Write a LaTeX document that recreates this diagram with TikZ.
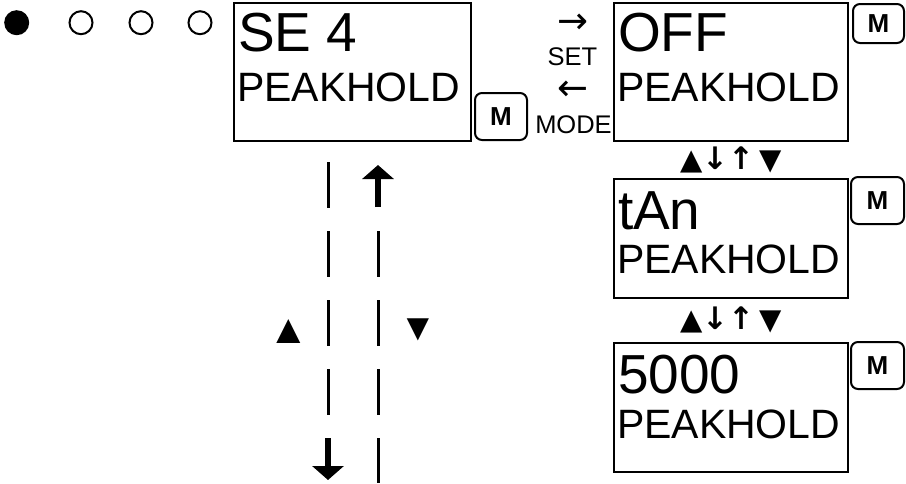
\documentclass[tikz,border=0pt]{standalone}
\usepackage{fontspec}
\setmainfont{Liberation Sans}
\newfontfamily\symfont{DejaVu Sans}
\usetikzlibrary{arrows.meta, positioning}

\newcommand{\navarrows}{{\symfont\fontsize{29}{29}\selectfont ▲}%
  {\symfont\bfseries\fontsize{31}{31}\selectfont ↓↑}\hspace{4.1pt}%
  {\symfont\fontsize{29}{29}\selectfont ▼}}

\begin{document}
\begin{tikzpicture}[
    x=1pt, y=-1pt,
    dispbox/.style={rectangle, draw, line width=2.4pt, inner sep=0pt, minimum width=234pt},
    mkey/.style={rectangle, draw, rounded corners=7pt, line width=2pt, font=\fontsize{26}{26}\selectfont\bfseries, inner sep=0pt, minimum width=52pt, minimum height=47pt},
    bigtxt/.style={anchor=base west, inner sep=0pt, font=\fontsize{55}{55}\selectfont},
    midtxt/.style={anchor=base west, inner sep=0pt, font=\fontsize{41}{41}\selectfont},
    keytxt/.style={inner sep=0pt, font=\fontsize{25.5}{25.5}\selectfont},
    arrtxt/.style={inner sep=0pt, anchor=base, text height=18pt, text depth=0pt, font=\symfont\fontsize{37}{37}\selectfont},
    symtxt/.style={inner sep=0pt, anchor=base, font=\fontsize{42}{42}\selectfont},
    led/.style={circle, inner sep=0pt, minimum size=23pt, line width=2pt},
    dashline/.style={line width=3pt, dash pattern=on 46pt off 23pt},
    bigarrow/.style={line width=6.5pt, -{Triangle[width=31pt, length=14pt]}}
]
    \useasboundingbox (0,0) rectangle (906,483);

    % Step indicator
    \node[led, fill, minimum size=25pt] (led1) at (16.7,22.7) {};
    \node[led, draw] (led2) at (81,22.7) {};
    \node[led, draw] (led3) at (141,22.7) {};
    \node[led, draw] (led4) at (200,22.7) {};

    % Displays
    \node[dispbox, minimum width=237pt, minimum height=138pt] (se) at (352.5,72) {};
    \node[dispbox, minimum height=138pt] (off) at (731,72) {};
    \node[dispbox, minimum height=119pt] (tan) at (731,238.5) {};
    \node[dispbox, minimum height=129pt] (val) at (731,407.5) {};

    % Display texts
    \node[bigtxt] (seA) at ([shift={(5,50)}]se.north west) {SE 4};
    \node[midtxt] (seB) at ([shift={(4,100)}]se.north west) {PEAKHOLD};
    \node[bigtxt] (offA) at ([shift={(5,50)}]off.north west) {OFF};
    \node[midtxt] (offB) at ([shift={(4,100)}]off.north west) {PEAKHOLD};
    \node[bigtxt] (tanA) at ([shift={(5,52)}]tan.north west) {tAn};
    \node[midtxt] (tanB) at ([shift={(4,96)}]tan.north west) {PEAKHOLD};
    \node[bigtxt] (valA) at ([shift={(5,52)}]val.north west) {5000};
    \node[midtxt] (valB) at ([shift={(4,97)}]val.north west) {PEAKHOLD};

    % M keys
    \node[mkey] (m1) at (501,116.5) {M};
    \node[mkey, minimum width=51pt, minimum height=39pt] (m2) at (878.5,23.5) {M};
    \node[mkey, minimum width=53pt] (m3) at (877.5,200.5) {M};
    \node[mkey, minimum width=53pt] (m4) at (877.5,365.5) {M};

    % Key hints
    \node[arrtxt] (setArr) at (572.5,33) {→};
    \node[keytxt, anchor=base] (setLbl) at (572.5,65) {SET};
    \node[arrtxt] (modeArr) at (573,100) {←};
    \node[keytxt, anchor=base] (modeLbl) at (573.5,133) {MODE};
    \node[inner sep=0pt, anchor=base] (nav1) at (731,169) {\navarrows};
    \node[inner sep=0pt, anchor=base] (nav2) at (731,329) {\navarrows};

    % Scroll lines
    \coordinate (dnTop) at (328,162);
    \coordinate (dnMid) at (328,416);
    \coordinate (dnStart) at (328,438);
    \coordinate (dnTip) at (328,480);
    \coordinate (upTip) at (378,165);
    \coordinate (upStart) at (378,207);
    \coordinate (upMid) at (378,231);
    \coordinate (upEnd) at (378,483);
    \draw[dashline] (dnTop) -- (dnMid);
    \draw[bigarrow] (dnStart) -- (dnTip);
    \draw[bigarrow] (upStart) -- (upTip);
    \draw[dashline] (upMid) -- (upEnd);
    \node[symtxt, font=\fontsize{41}{41}\selectfont] (upSym) at (288.5,343) {▲};
    \node[symtxt, font=\fontsize{38}{38}\selectfont] (dnSym) at (418,340) {▼};
\end{tikzpicture}
\end{document}
